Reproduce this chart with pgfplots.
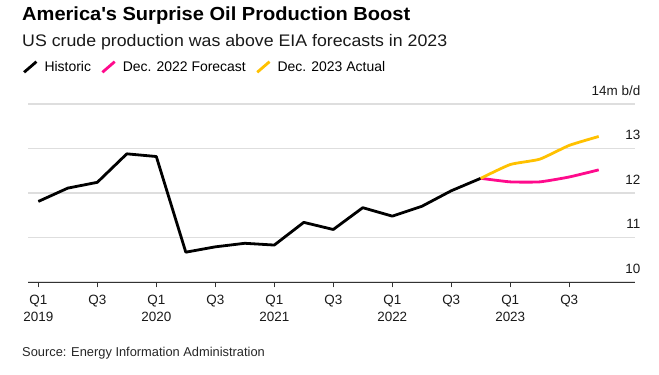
\documentclass[border=0pt]{standalone}
\usepackage{pgfplots}
\pgfplotsset{compat=1.18}
\usepackage{fontspec}
\setmainfont{Liberation Sans}
\newfontfamily\widefont[FakeStretch=1.06]{Liberation Sans}
\definecolor{fpink}{RGB}{255,10,140}
\definecolor{fyellow}{RGB}{255,193,0}
\definecolor{gridc}{RGB}{222,222,222}
\definecolor{axc}{RGB}{50,50,50}
\begin{document}
\begin{tikzpicture}
\path[use as bounding box] (0,0) rectangle (659bp,375bp);
\node[anchor=base west, inner sep=0pt, font=\widefont\fontsize{19}{21}\selectfont\bfseries] at (22bp,354.3bp) {America\textquotesingle s Surprise Oil Production Boost};
\node[anchor=base west, inner sep=0pt, font=\widefont\fontsize{16.8}{19}\selectfont, text=black!90] at (22bp,328bp) {US crude production was above EIA forecasts in 2023};
\node[anchor=base west, inner sep=0pt, font=\fontsize{12.9}{14}\selectfont, text=black!85] at (22bp,19bp) {Source: Energy Information Administration};
\begin{axis}[
 at={(28.3bp,93bp)}, anchor=south west,
 scale only axis, width=606.7bp, height=178bp,
 xmin=-0.34, xmax=20.23, ymin=10, ymax=14,
 clip=false,
 axis x line*=bottom, axis y line*=right,
 y axis line style={draw=none},
 x axis line style={color=axc, line width=0.9bp},
 ytick={10,11,12,13,14},
 yticklabels={10,11,12,13,14m b/d},
 ytick style={draw=none},
 yticklabel style={anchor=base east, inner sep=0pt, yshift=8.7bp, font=\fontsize{13.5}{15}\selectfont, text=black!90},
 ymajorgrids, grid style={color=gridc, line width=1.4bp},
 xtick={0,2,...,18},
 xticklabels={{Q1\\2019},Q3,{Q1\\2020},Q3,{Q1\\2021},Q3,{Q1\\2022},Q3,{Q1\\2023},Q3},
 tick align=outside, major tick length=5.5bp,
 xtick style={color=axc, line width=0.9bp},
 xticklabel style={anchor=north, align=center, inner sep=0pt, yshift=-7bp, font=\fontsize{13.5}{17.6}\selectfont, text=black!90},
 legend columns=3,
 legend style={at={(-0.0092,1.208)}, anchor=west, draw=none, fill=none, inner sep=0pt, outer sep=0pt,
   nodes={inner sep=0pt, font=\fontsize{14}{16}\selectfont},
   /tikz/every odd column/.append style={column sep=6.7bp},
   /tikz/every even column/.append style={column sep=10bp}},
 legend image code/.code={\draw[#1, line cap=butt] (0bp,-5.3bp) -- (12.3bp,5.3bp);},
]
\addplot[black, line width=2.8bp, line join=round] coordinates {
 (0,11.81) (1,12.11) (2,12.24) (3,12.88) (4,12.82) (5,10.67) (6,10.79) (7,10.87)
 (8,10.83) (9,11.34) (10,11.18) (11,11.67) (12,11.48) (13,11.70) (14,12.05) (15,12.33)};
\addlegendentry{Historic}
\addplot[fpink, line width=2.8bp, smooth, tension=0.3] coordinates {
 (15,12.33) (16,12.25) (17,12.25) (18,12.36) (19,12.52)};
\addlegendentry{Dec. 2022 Forecast}
\addplot[fyellow, line width=2.8bp, smooth, tension=0.3] coordinates {
 (15,12.33) (16,12.64) (17,12.76) (18,13.07) (19,13.27)};
\addlegendentry{Dec. 2023 Actual}
\end{axis}
\end{tikzpicture}
\end{document}
